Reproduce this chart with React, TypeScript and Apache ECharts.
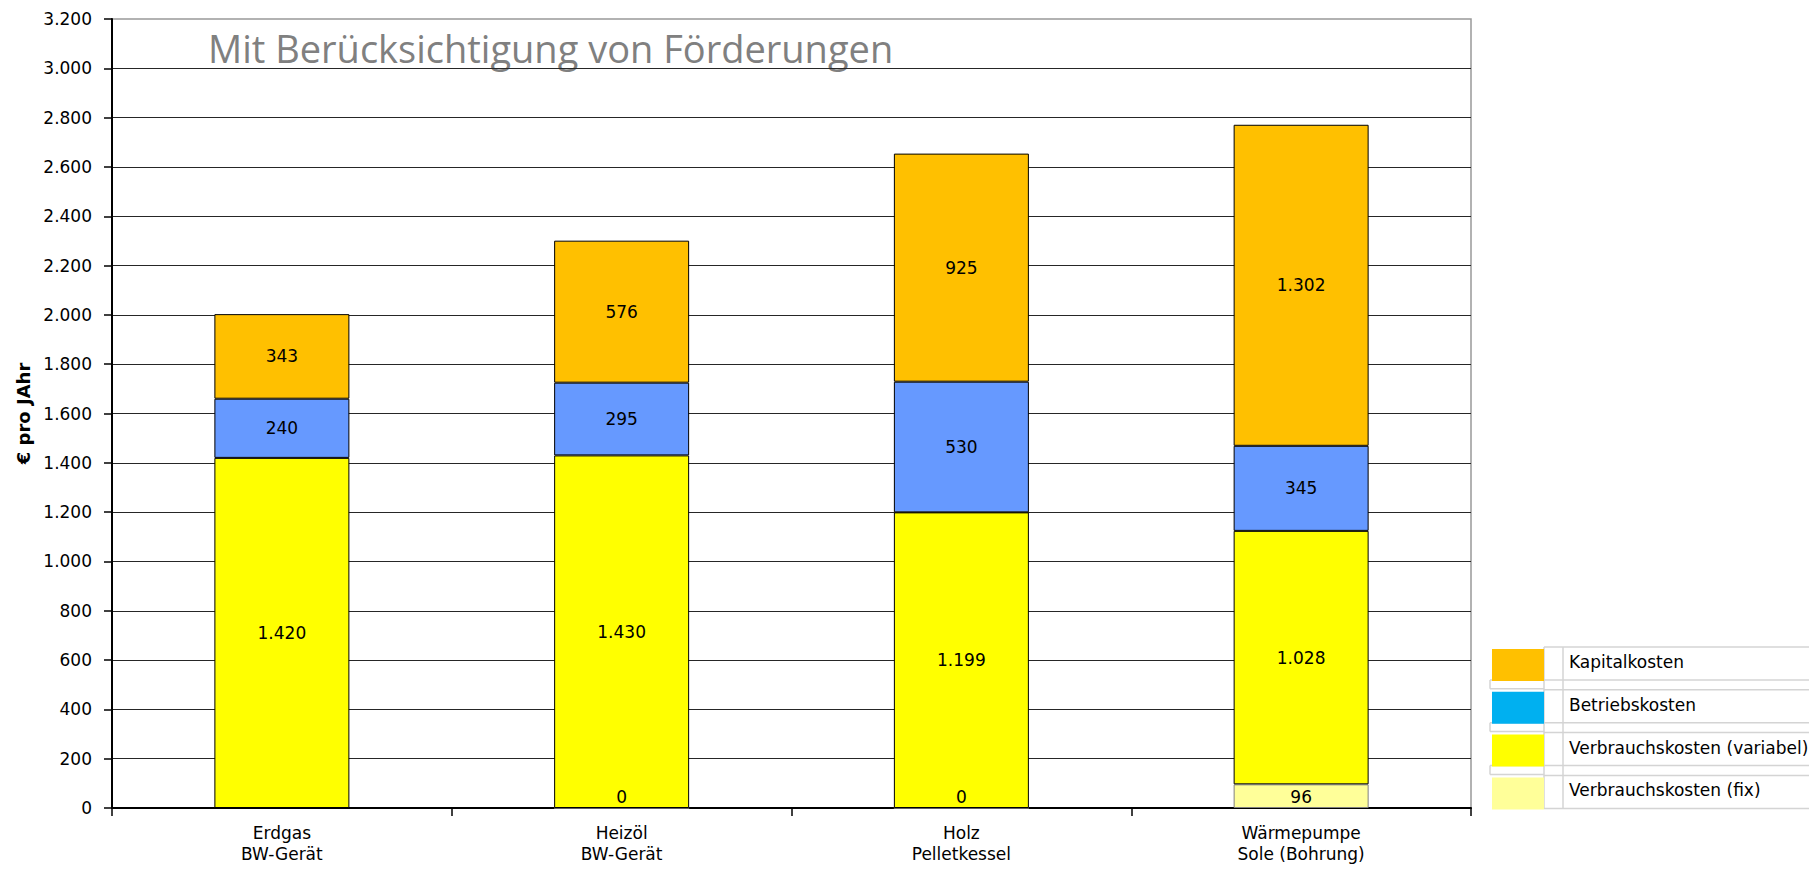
import React, { useEffect, useRef } from "react";
import * as echarts from "echarts";

const categories = ["Erdgas\nBW-Gerät", "Heizöl\nBW-Gerät", "Holz\nPelletkessel", "Wärmepumpe\nSole (Bohrung)"];
const verbrauchFix: (number | null)[] = [null, 0, 0, 96];
const verbrauchVar = [1420, 1430, 1199, 1028];
const betrieb = [240, 295, 530, 345];
const kapital = [343, 576, 925, 1302];

const yMin = 0;
const yMax = 3200;
const yStep = 200;

const legendNames = ["Kapitalkosten", "Betriebskosten", "Verbrauchskosten (variabel)", "Verbrauchskosten (fix)"];
const legendColors = ["#FFC000", "#00B0F0", "#FFFF00", "#FFFF99"];

const barColors = { fix: "#FFFF99", var: "#FFFF00", betrieb: "#6699FF", kapital: "#FFC000" };

const titleText = "Mit Berücksichtigung von Förderungen";
const yAxisName = "€ pro JAhr";

const FONT = "'DejaVu Sans', 'Liberation Sans', Arial, sans-serif";

const fmt = (v: number) => String(Math.round(v)).replace(/\B(?=(\d{3})+(?!\d))/g, ".");

function buildLegend() {
  const els: any[] = [];
  const lineColor = "#d4d4d4";
  const top0 = 647;
  const pitch = 42.8;
  const rowH = 32;
  const xL = 1490;
  const xSw = 1492;
  const xA = 1544;
  const xB = 1563;
  const xR = 1809;
  const yEnd = top0 + 3 * pitch + rowH + 1;
  els.push({ type: "line", shape: { x1: xA, y1: top0, x2: xA, y2: yEnd }, style: { stroke: lineColor, lineWidth: 1.5 } });
  els.push({ type: "line", shape: { x1: xB, y1: top0, x2: xB, y2: yEnd }, style: { stroke: lineColor, lineWidth: 1.5 } });
  legendNames.forEach((name, i) => {
    const t = top0 + i * pitch;
    els.push({ type: "line", shape: { x1: xA, y1: t, x2: xR, y2: t }, style: { stroke: lineColor, lineWidth: 1.5 } });
    els.push({ type: "line", shape: { x1: i < 3 ? xL : xA, y1: t + rowH + 1, x2: xR, y2: t + rowH + 1 }, style: { stroke: lineColor, lineWidth: 1.5 } });
    if (i < 3) {
      els.push({ type: "line", shape: { x1: xL, y1: t + pitch - 1, x2: xA, y2: t + pitch - 1 }, style: { stroke: lineColor, lineWidth: 1.5 } });
      els.push({ type: "line", shape: { x1: xL, y1: t + rowH + 1, x2: xL, y2: t + pitch - 1 }, style: { stroke: lineColor, lineWidth: 1.5 } });
    }
    els.push({ type: "rect", shape: { x: xSw, y: t + 2, width: xA - xSw, height: rowH }, style: { fill: legendColors[i] } });
    els.push({
      type: "text",
      x: 1569,
      y: t + rowH / 2 - 1,
      style: { text: name, fill: "#000", font: `17px ${FONT}`, textAlign: "left", textVerticalAlign: "middle" },
    });
  });
  return els;
}

export default function App() {
  const ref = useRef<HTMLDivElement>(null);
  useEffect(() => {
    if (!ref.current) return;
    const chart = echarts.init(ref.current, null, { renderer: "svg" });
    const labelBase = { show: true, color: "#000", fontFamily: FONT, fontSize: 17, formatter: (p: any) => fmt(p.value) };
    const itemBase = { borderColor: "#000", borderWidth: 1 };
    chart.setOption({
      animation: false,
      backgroundColor: "#fff",
      grid: { left: 112, right: 338, top: 19, bottom: 61, show: true, borderColor: "#999", borderWidth: 1.5, backgroundColor: "transparent" },
      xAxis: {
        type: "category",
        data: categories,
        boundaryGap: true,
        axisLine: { lineStyle: { color: "#000", width: 2 } },
        axisTick: { show: true, length: 8, lineStyle: { color: "#000", width: 1.5 } },
        axisLabel: { color: "#000", fontFamily: FONT, fontSize: 17, lineHeight: 21, margin: 14 },
      },
      yAxis: {
        type: "value",
        min: yMin,
        max: yMax,
        interval: yStep,
        name: yAxisName,
        nameLocation: "middle",
        nameRotate: 90,
        nameGap: 79,
        nameTextStyle: { color: "#000", fontFamily: FONT, fontSize: 18, fontWeight: "bold" },
        axisLine: { show: true, lineStyle: { color: "#000", width: 2 } },
        axisTick: { show: true, length: 8, lineStyle: { color: "#000", width: 1.5 } },
        axisLabel: { color: "#000", fontFamily: FONT, fontSize: 17, margin: 20, formatter: (v: number) => fmt(v) },
        splitLine: { show: true, showMaxLine: false, lineStyle: { color: "#262626", width: 1.2 } },
      },
      series: [
        {
          name: "Verbrauchskosten (fix)",
          type: "bar",
          stack: "total",
          barWidth: 135,
          data: verbrauchFix,
          itemStyle: { color: barColors.fix, borderColor: "#808080", borderWidth: 1 },
          label: { ...labelBase, position: "insideBottom", distance: 3 },
        },
        {
          name: "Verbrauchskosten (variabel)",
          type: "bar",
          stack: "total",
          barWidth: 135,
          data: verbrauchVar,
          itemStyle: { color: barColors.var, ...itemBase },
          label: { ...labelBase, position: "inside" },
        },
        {
          name: "Betriebskosten",
          type: "bar",
          stack: "total",
          barWidth: 135,
          data: betrieb,
          itemStyle: { color: barColors.betrieb, ...itemBase },
          label: { ...labelBase, position: "inside" },
        },
        {
          name: "Kapitalkosten",
          type: "bar",
          stack: "total",
          barWidth: 135,
          data: kapital,
          itemStyle: { color: barColors.kapital, ...itemBase },
          label: { ...labelBase, position: "inside" },
        },
      ],
      graphic: [
        {
          type: "text",
          x: 208,
          y: 48,
          style: { text: titleText, fill: "#808080", font: "38px 'Open Sans', sans-serif", textAlign: "left", textVerticalAlign: "middle" },
        },
        ...buildLegend(),
      ],
    });
    return () => chart.dispose();
  }, []);
  return <div ref={ref} style={{ position: "absolute", left: 0, top: 0, width: 1809, height: 869 }} />;
}
